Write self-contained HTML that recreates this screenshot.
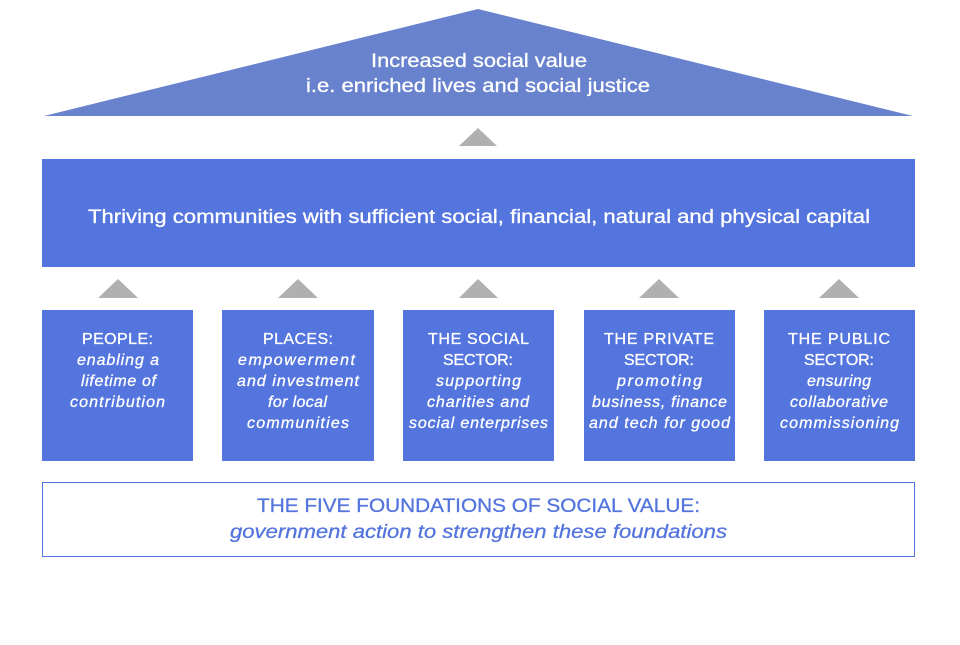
<!DOCTYPE html>
<html><head><meta charset="utf-8"><style>
body{margin:0;background:#fff}
svg text{font-family:"Liberation Sans",sans-serif;fill:#fff;stroke:#fff;stroke-width:0.3}
</style></head><body>
<svg width="960" height="640" xmlns="http://www.w3.org/2000/svg">
<rect width="960" height="640" fill="#fff"/>
<polygon points="44,116 478,9 913,116" fill="#6882cd"/>
<text x="371" y="67" font-size="19" textLength="216" lengthAdjust="spacingAndGlyphs">Increased social value</text>
<text x="306" y="92" font-size="19" textLength="344" lengthAdjust="spacingAndGlyphs">i.e. enriched lives and social justice</text>
<polygon points="459,146 478,128 497,146" fill="#b0b0b0"/>
<rect x="42" y="159" width="873" height="108" fill="#5575de"/>
<text x="88" y="223" font-size="19" textLength="782" lengthAdjust="spacingAndGlyphs">Thriving communities with sufficient social, financial, natural and physical capital</text>
<g fill="#b0b0b0">
<polygon points="98,298 118,279 138,298"/>
<polygon points="278,298 298,279 318,298"/>
<polygon points="459,298 478,279 498,298"/>
<polygon points="639,298 659,279 679,298"/>
<polygon points="819,298 839,279 859,298"/>
</g>
<g fill="#5575de">
<rect x="42" y="310" width="151" height="151"/>
<rect x="222" y="310" width="152" height="151"/>
<rect x="403" y="310" width="151" height="151"/>
<rect x="584" y="310" width="151" height="151"/>
<rect x="764" y="310" width="151" height="151"/>
</g>
<g font-size="16" lengthAdjust="spacingAndGlyphs">
<text x="82" y="344" textLength="71">PEOPLE:</text>
<text x="77" y="365" font-style="italic" textLength="82">enabling a</text>
<text x="81" y="386" font-style="italic" textLength="75">lifetime of</text>
<text x="70" y="407" font-style="italic" textLength="95">contribution</text>
<text x="263" y="344" textLength="70">PLACES:</text>
<text x="238" y="365" font-style="italic" textLength="117">empowerment</text>
<text x="237" y="386" font-style="italic" textLength="122">and investment</text>
<text x="268" y="407" font-style="italic" textLength="59">for local</text>
<text x="247" y="428" font-style="italic" textLength="102">communities</text>
<text x="428" y="344" textLength="101">THE SOCIAL</text>
<text x="443" y="365" textLength="70">SECTOR:</text>
<text x="436" y="386" font-style="italic" textLength="85">supporting</text>
<text x="427" y="407" font-style="italic" textLength="102">charities and</text>
<text x="409" y="428" font-style="italic" textLength="139">social enterprises</text>
<text x="604" y="344" textLength="110">THE PRIVATE</text>
<text x="624" y="365" textLength="70">SECTOR:</text>
<text x="617" y="386" font-style="italic" textLength="85">promoting</text>
<text x="592" y="407" font-style="italic" textLength="135">business, finance</text>
<text x="589" y="428" font-style="italic" textLength="141">and tech for good</text>
<text x="788" y="344" textLength="102">THE PUBLIC</text>
<text x="804" y="365" textLength="70">SECTOR:</text>
<text x="807" y="386" font-style="italic" textLength="64">ensuring</text>
<text x="790" y="407" font-style="italic" textLength="98">collaborative</text>
<text x="780" y="428" font-style="italic" textLength="119">commissioning</text>
</g>
<rect x="42.5" y="482.5" width="872" height="74" fill="#fff" stroke="#5575de" stroke-width="1"/>
<text x="257" y="512" font-size="19" textLength="443" lengthAdjust="spacingAndGlyphs" style="fill:#5575de;stroke:#5575de">THE FIVE FOUNDATIONS OF SOCIAL VALUE:</text>
<text x="230" y="538" font-size="19" textLength="497" lengthAdjust="spacingAndGlyphs" font-style="italic" style="fill:#5575de;stroke:#5575de">government action to strengthen these foundations</text>
</svg>
</body></html>
